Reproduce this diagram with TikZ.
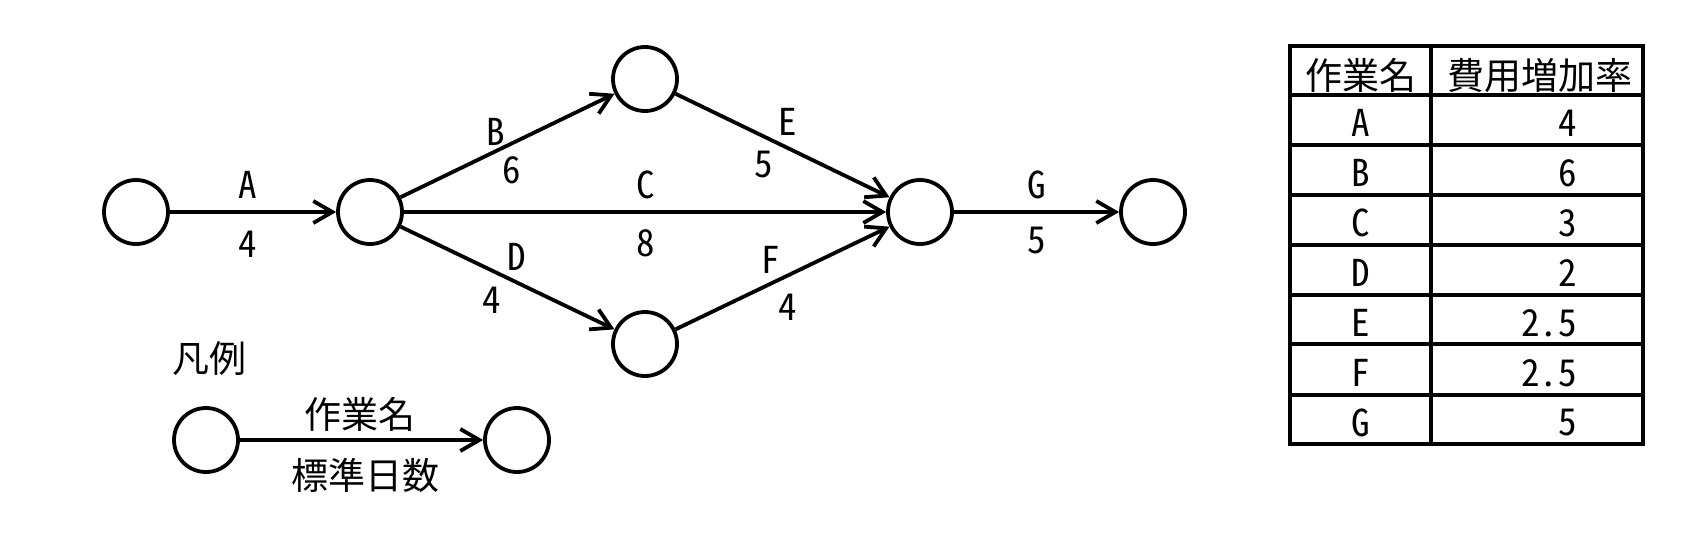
\documentclass[tikz,border=0pt]{standalone}
\usepackage{fontspec}
\setmainfont{Noto Sans CJK JP}
\newfontfamily\jpf{Noto Sans CJK JP}
\newfontfamily\hwf[RawFeature=+hwid]{Noto Sans CJK JP}
\usetikzlibrary{arrows.meta}
\begin{document}
\begin{tikzpicture}[x=1pt,y=-1pt,
  ev/.style={circle,draw,line width=3.8pt,minimum size=64pt,inner sep=0pt},
  act/.style={line width=3.8pt,-{Straight Barb[length=19pt,width=22pt,line width=3.8pt]}},
  lbl/.style={inner sep=0pt,font=\hwf\fontsize{37pt}{37pt}\selectfont},
  jlbl/.style={inner sep=0pt,font=\jpf\fontsize{37pt}{37pt}\selectfont},
  tline/.style={line width=4pt,line cap=rect}
]
\useasboundingbox (0,0) rectangle (1707,533);
% events
\node[ev] (n1) at (136,212) {};
\node[ev] (n2) at (370,212) {};
\node[ev] (n3) at (645,79) {};
\node[ev] (n4) at (645,344) {};
\node[ev] (n5) at (920,212) {};
\node[ev] (n6) at (1153,212) {};
% activities
\draw[act] (n1) -- (n2);
\draw[act] (n2) -- (n3);
\draw[act] (n2) -- (n5);
\draw[act] (n2) -- (n4);
\draw[act] (n3) -- (n5);
\draw[act] (n4) -- (n5);
\draw[act] (n5) -- (n6);
% labels
\node[lbl] (lA) at (248,185) {A};
\node[lbl] (dA) at (248,244) {4};
\node[lbl] (lB) at (496,132) {B};
\node[lbl] (dB) at (512,170) {6};
\node[lbl] (lC) at (646,185) {C};
\node[lbl] (dC) at (646,243) {8};
\node[lbl] (lD) at (517,257) {D};
\node[lbl] (dD) at (492,300) {4};
\node[lbl] (lE) at (788,122) {E};
\node[lbl] (dE) at (764,165) {5};
\node[lbl] (lF) at (771,260) {F};
\node[lbl] (dF) at (788,307) {4};
\node[lbl] (lG) at (1037,185) {G};
\node[lbl] (dG) at (1037,241) {5};
% legend
\node[jlbl] (leg) at (209,359) {凡例};
\node[ev] (m1) at (206,440) {};
\node[ev] (m2) at (517,440) {};
\draw[act] (m1) -- (m2);
\node[jlbl] (mname) at (360,414) {作業名};
\node[jlbl] (mdays) at (365,475) {標準日数};
% table
\draw[tline] (1290,46) rectangle (1643,444);
\draw[tline] (1431,46) -- (1431,444);
\foreach \yy in {95,145,195,245,295,344,395} \draw[tline] (1290,\yy) -- (1643,\yy);
\node[jlbl] (th1) at (1361,75) {作業名};
\node[jlbl] (th2) at (1540,75) {費用増加率};
\foreach \nm/\val [count=\i from 0] in {A/4,B/6,C/3,D/2,E/2.5,F/2.5,G/5} {
  \node[lbl] (tr\nm) at (1361,123+50*\i) {\nm};
  \node[lbl,anchor=east] (tv\nm) at (1577,123+50*\i) {\val};
}
\end{tikzpicture}
\end{document}
